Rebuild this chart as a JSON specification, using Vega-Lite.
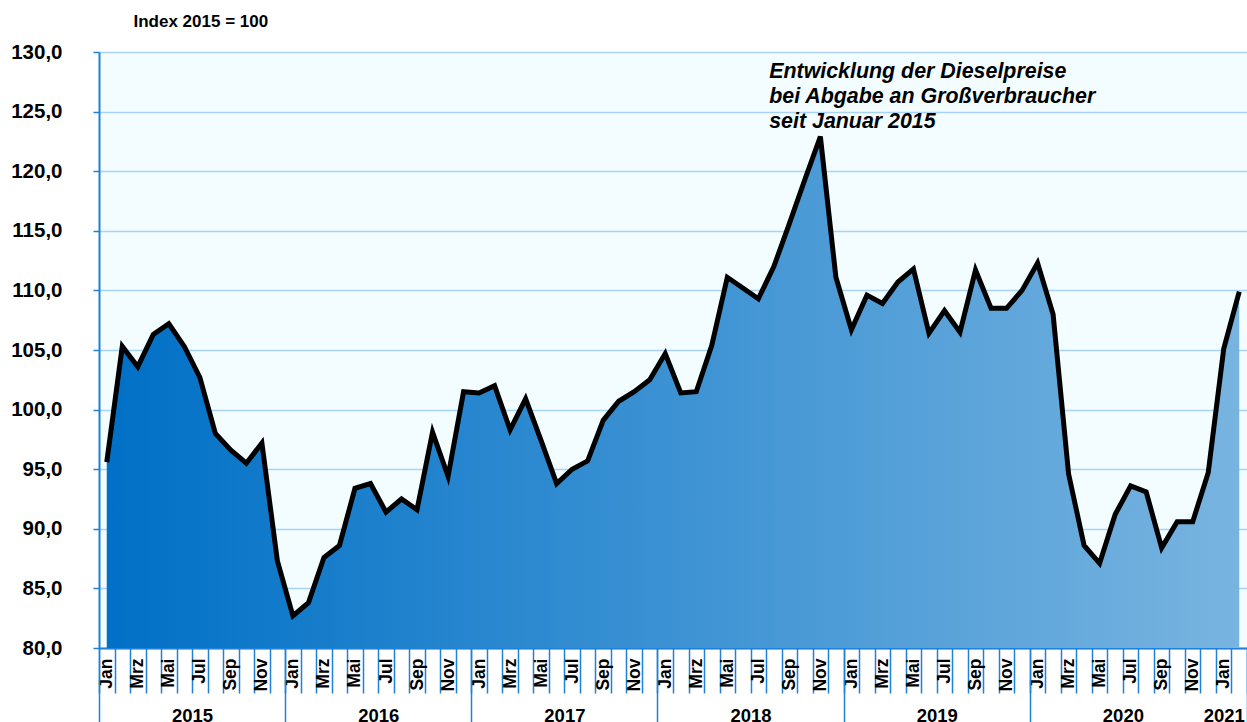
{
  "$schema": "https://vega.github.io/schema/vega-lite/v6.json",
  "width": 1148,
  "height": 596,
  "autosize": {"type": "none"},
  "padding": {"left": 99, "top": 52, "right": 0, "bottom": 74},
  "background": "white",
  "config": {
    "view": {"fill": "#f3fdff", "stroke": null},
    "font": "Liberation Sans"
  },
  "datasets": {
    "diesel": [
      {"i": 0, "year": 2015, "month": "Jan", "index": 95.6},
      {"i": 1, "year": 2015, "month": "Feb", "index": 105.3},
      {"i": 2, "year": 2015, "month": "Mrz", "index": 103.6},
      {"i": 3, "year": 2015, "month": "Apr", "index": 106.3},
      {"i": 4, "year": 2015, "month": "Mai", "index": 107.2},
      {"i": 5, "year": 2015, "month": "Jun", "index": 105.3},
      {"i": 6, "year": 2015, "month": "Jul", "index": 102.7},
      {"i": 7, "year": 2015, "month": "Aug", "index": 98.0},
      {"i": 8, "year": 2015, "month": "Sep", "index": 96.6},
      {"i": 9, "year": 2015, "month": "Okt", "index": 95.5},
      {"i": 10, "year": 2015, "month": "Nov", "index": 97.2},
      {"i": 11, "year": 2015, "month": "Dez", "index": 87.3},
      {"i": 12, "year": 2016, "month": "Jan", "index": 82.7},
      {"i": 13, "year": 2016, "month": "Feb", "index": 83.8},
      {"i": 14, "year": 2016, "month": "Mrz", "index": 87.6},
      {"i": 15, "year": 2016, "month": "Apr", "index": 88.6},
      {"i": 16, "year": 2016, "month": "Mai", "index": 93.4},
      {"i": 17, "year": 2016, "month": "Jun", "index": 93.8},
      {"i": 18, "year": 2016, "month": "Jul", "index": 91.4},
      {"i": 19, "year": 2016, "month": "Aug", "index": 92.5},
      {"i": 20, "year": 2016, "month": "Sep", "index": 91.6},
      {"i": 21, "year": 2016, "month": "Okt", "index": 98.1},
      {"i": 22, "year": 2016, "month": "Nov", "index": 94.4},
      {"i": 23, "year": 2016, "month": "Dez", "index": 101.5},
      {"i": 24, "year": 2017, "month": "Jan", "index": 101.4},
      {"i": 25, "year": 2017, "month": "Feb", "index": 102.0},
      {"i": 26, "year": 2017, "month": "Mrz", "index": 98.3},
      {"i": 27, "year": 2017, "month": "Apr", "index": 100.9},
      {"i": 28, "year": 2017, "month": "Mai", "index": 97.4},
      {"i": 29, "year": 2017, "month": "Jun", "index": 93.8},
      {"i": 30, "year": 2017, "month": "Jul", "index": 95.0},
      {"i": 31, "year": 2017, "month": "Aug", "index": 95.7},
      {"i": 32, "year": 2017, "month": "Sep", "index": 99.1},
      {"i": 33, "year": 2017, "month": "Okt", "index": 100.7},
      {"i": 34, "year": 2017, "month": "Nov", "index": 101.5},
      {"i": 35, "year": 2017, "month": "Dez", "index": 102.5},
      {"i": 36, "year": 2018, "month": "Jan", "index": 104.7},
      {"i": 37, "year": 2018, "month": "Feb", "index": 101.4},
      {"i": 38, "year": 2018, "month": "Mrz", "index": 101.5},
      {"i": 39, "year": 2018, "month": "Apr", "index": 105.4},
      {"i": 40, "year": 2018, "month": "Mai", "index": 111.1},
      {"i": 41, "year": 2018, "month": "Jun", "index": 110.2},
      {"i": 42, "year": 2018, "month": "Jul", "index": 109.3},
      {"i": 43, "year": 2018, "month": "Aug", "index": 112.0},
      {"i": 44, "year": 2018, "month": "Sep", "index": 115.6},
      {"i": 45, "year": 2018, "month": "Okt", "index": 119.3},
      {"i": 46, "year": 2018, "month": "Nov", "index": 122.9},
      {"i": 47, "year": 2018, "month": "Dez", "index": 111.1},
      {"i": 48, "year": 2019, "month": "Jan", "index": 106.7},
      {"i": 49, "year": 2019, "month": "Feb", "index": 109.6},
      {"i": 50, "year": 2019, "month": "Mrz", "index": 108.9},
      {"i": 51, "year": 2019, "month": "Apr", "index": 110.7},
      {"i": 52, "year": 2019, "month": "Mai", "index": 111.8},
      {"i": 53, "year": 2019, "month": "Jun", "index": 106.4},
      {"i": 54, "year": 2019, "month": "Jul", "index": 108.3},
      {"i": 55, "year": 2019, "month": "Aug", "index": 106.5},
      {"i": 56, "year": 2019, "month": "Sep", "index": 111.7},
      {"i": 57, "year": 2019, "month": "Okt", "index": 108.5},
      {"i": 58, "year": 2019, "month": "Nov", "index": 108.5},
      {"i": 59, "year": 2019, "month": "Dez", "index": 110.0},
      {"i": 60, "year": 2020, "month": "Jan", "index": 112.3},
      {"i": 61, "year": 2020, "month": "Feb", "index": 108.0},
      {"i": 62, "year": 2020, "month": "Mrz", "index": 94.6},
      {"i": 63, "year": 2020, "month": "Apr", "index": 88.6},
      {"i": 64, "year": 2020, "month": "Mai", "index": 87.1},
      {"i": 65, "year": 2020, "month": "Jun", "index": 91.2},
      {"i": 66, "year": 2020, "month": "Jul", "index": 93.6},
      {"i": 67, "year": 2020, "month": "Aug", "index": 93.1},
      {"i": 68, "year": 2020, "month": "Sep", "index": 88.4},
      {"i": 69, "year": 2020, "month": "Okt", "index": 90.6},
      {"i": 70, "year": 2020, "month": "Nov", "index": 90.6},
      {"i": 71, "year": 2020, "month": "Dez", "index": 94.7},
      {"i": 72, "year": 2021, "month": "Jan", "index": 105.1},
      {"i": 73, "year": 2021, "month": "Feb", "index": 109.9}
    ],
    "note": [
      {"text": "Entwicklung der Dieselpreise\nbei Abgabe an Großverbraucher\nseit Januar 2015"}
    ]
  },
  "resolve": {"axis": {"x": "independent"}},
  "layer": [
    {
      "data": {"name": "diesel"},
      "mark": {
        "type": "area",
        "opacity": 1,
        "fillOpacity": 1,
        "fill": {
          "gradient": "linear",
          "x1": 0, "x2": 1, "y1": 0, "y2": 0,
          "stops": [
            {"offset": 0, "color": "#0070c6"},
            {"offset": 1, "color": "#78b4e0"}
          ]
        },
        "line": {"color": "black", "strokeWidth": 5}
      },
      "encoding": {
        "x": {
          "field": "i", "type": "quantitative",
          "scale": {"domain": [-0.5, 73.5], "nice": false, "zero": false},
          "axis": {
            "orient": "bottom",
            "title": null,
            "values": [-0.5,0.5,1.5,2.5,3.5,4.5,5.5,6.5,7.5,8.5,9.5,10.5,11.5,12.5,13.5,14.5,15.5,16.5,17.5,18.5,19.5,20.5,21.5,22.5,23.5,24.5,25.5,26.5,27.5,28.5,29.5,30.5,31.5,32.5,33.5,34.5,35.5,36.5,37.5,38.5,39.5,40.5,41.5,42.5,43.5,44.5,45.5,46.5,47.5,48.5,49.5,50.5,51.5,52.5,53.5,54.5,55.5,56.5,57.5,58.5,59.5,60.5,61.5,62.5,63.5,64.5,65.5,66.5,67.5,68.5,69.5,70.5,71.5,72.5,73.5],
            "labels": false,
            "grid": false,
            "ticks": true,
            "tickSize": 45,
            "tickColor": "#1f80d8",
            "tickWidth": 1.5,
            "domain": true,
            "domainColor": "#1f80d8",
            "domainWidth": 2
          }
        },
        "y": {
          "field": "index", "type": "quantitative",
          "scale": {"domain": [80, 130], "nice": false, "zero": false},
          "axis": {
            "values": [80, 85, 90, 95, 100, 105, 110, 115, 120, 125, 130],
            "labelExpr": "replace(format(datum.value, '.1f'), '.', ',')",
            "labelFont": "Liberation Sans",
            "labelFontSize": 20.5,
            "labelFontWeight": "bold",
            "labelColor": "black",
            "labelPadding": 31,
            "tickSize": 6,
            "tickColor": "#1f80d8",
            "tickWidth": 1.5,
            "domainColor": "#1f80d8",
            "domainWidth": 2,
            "grid": true,
            "gridColor": "#a8d3f5",
            "gridWidth": 1.5,
            "title": "Index 2015 = 100",
            "titleAngle": 0,
            "titleAlign": "left",
            "titleBaseline": "alphabetic",
            "titleX": 34,
            "titleY": -26,
            "titleFont": "Liberation Sans",
            "titleFontSize": 17,
            "titleFontWeight": "bold",
            "titleColor": "black"
          }
        },
        "y2": {"datum": 80}
      }
    },
    {
      "data": {"name": "diesel"},
      "mark": {"type": "rule", "opacity": 0},
      "encoding": {
        "x": {
          "field": "i", "type": "quantitative",
          "axis": {
            "orient": "bottom",
            "title": null,
            "values": [0,2,4,6,8,10,12,14,16,18,20,22,24,26,28,30,32,34,36,38,40,42,44,46,48,50,52,54,56,58,60,62,64,66,68,70,72],
            "labelExpr": "['Jan','Mrz','Mai','Jul','Sep','Nov'][(datum.value % 12) / 2]",
            "labelAngle": 270,
            "labelAlign": "right",
            "labelBaseline": "middle",
            "labelPadding": 10,
            "labelOverlap": false,
            "labelFlush": false,
            "labelBound": false,
            "labelFont": "Liberation Sans",
            "labelFontSize": 17.5,
            "labelFontWeight": "bold",
            "labelColor": "black",
            "ticks": false,
            "tickSize": 0,
            "domain": false,
            "grid": false
          }
        }
      }
    },
    {
      "data": {"name": "diesel"},
      "mark": {"type": "rule", "opacity": 0},
      "encoding": {
        "x": {
          "field": "i", "type": "quantitative",
          "axis": {
            "orient": "bottom",
            "title": null,
            "values": [-0.5, 11.5, 23.5, 35.5, 47.5, 59.5, 73.5],
            "labels": false,
            "ticks": true,
            "tickSize": 74,
            "tickColor": "#1f80d8",
            "tickWidth": 1.5,
            "domain": false,
            "grid": false
          }
        }
      }
    },
    {
      "data": {"name": "diesel"},
      "mark": {"type": "rule", "opacity": 0},
      "encoding": {
        "x": {
          "field": "i", "type": "quantitative",
          "axis": {
            "orient": "bottom",
            "title": null,
            "values": [5.5, 17.5, 29.5, 41.5, 53.5, 65.5, 72],
            "labelExpr": "'' + (2015 + floor(datum.value / 12))",
            "labelAngle": 0,
            "labelAlign": "center",
            "labelBaseline": "alphabetic",
            "labelPadding": 73,
            "labelOverlap": false,
            "labelFlush": false,
            "labelBound": false,
            "labelFont": "Liberation Sans",
            "labelFontSize": 18.5,
            "labelFontWeight": "bold",
            "labelColor": "black",
            "ticks": false,
            "tickSize": 0,
            "domain": false,
            "grid": false
          }
        }
      }
    },
    {
      "data": {"name": "note"},
      "mark": {
        "type": "text",
        "align": "left",
        "baseline": "alphabetic",
        "font": "Liberation Sans",
        "fontSize": 21.4,
        "fontWeight": "bold",
        "fontStyle": "italic",
        "lineHeight": 25,
        "lineBreak": "\n",
        "color": "black"
      },
      "encoding": {
        "x": {"datum": 42.7, "type": "quantitative", "axis": null},
        "y": {"datum": 127.8, "type": "quantitative", "axis": {"title": "Index 2015 = 100"}},
        "text": {"field": "text"}
      }
    }
  ]
}
